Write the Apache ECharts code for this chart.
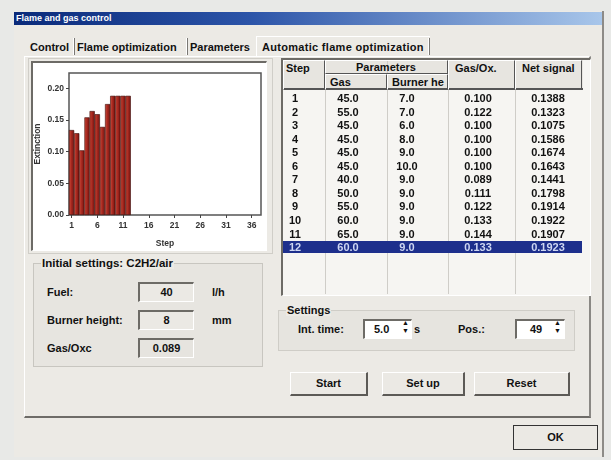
<!DOCTYPE html>
<html><head><meta charset="utf-8">
<script src="https://cdn.jsdelivr.net/npm/echarts@6/dist/echarts.min.js"></script>
<style>
html,body{margin:0;padding:0;}
body{width:611px;height:460px;background:#e8e9e7;position:relative;overflow:hidden;font-family:"Liberation Sans",Arial,sans-serif;font-weight:bold;font-size:11px;color:#111;}
.a{position:absolute;}
.t{position:absolute;white-space:nowrap;line-height:12px;}
.box{position:absolute;box-sizing:border-box;}
.sunk{border-top:2px solid #6d6b66;border-left:2px solid #6d6b66;border-right:1px solid #fff;border-bottom:1px solid #fff;}
.btn{position:absolute;box-sizing:border-box;border-top:1px solid #fff;border-left:1px solid #fff;border-right:2px solid #5c5a56;border-bottom:2px solid #5c5a56;background:#ebe9e4;text-align:center;}
</style></head><body>
<div id="dlg" class="box" style="left:14px;top:11px;width:590px;height:446px;background:#eceae5;border-right:2px solid #8d8b87;"></div>
<div class="box" style="left:14px;top:12px;width:588px;height:13px;background:linear-gradient(90deg,#0a2a7a 0%,#2c54a8 40%,#a8c6ea 100%);"></div>
<div class="t" style="left:16px;top:12px;color:#fff;font-size:9px;">Flame and gas control</div>

<div id="tabs"></div>
<div class="box" style="left:24px;top:56px;width:567px;height:362px;border-top:1px solid #fff;border-left:1px solid #fff;border-right:2px solid #8a8884;border-bottom:2px solid #6e6c68;"></div>

<div class="box" style="left:28px;top:58px;width:245px;height:196px;border:1px solid #d0cec8;"></div>
<div id="chart" class="box sunk" style="left:31px;top:61px;width:236px;height:190px;background:#fff;"></div>

<div class="box" style="left:33px;top:263px;width:230px;height:104px;border:1px solid #c8c6c0;background:#e7e5e0;"></div>
<div class="t" style="left:41px;top:257px;background:#eceae5;padding:0 1px;font-size:11.5px;">Initial settings: C2H2/air</div>
<div id="fields"></div>

<div id="table"></div>

<div class="box" style="left:278px;top:310px;width:297px;height:41px;border:1px solid #cfcdc7;background:#e6e4df;"></div>
<div class="t" style="left:286px;top:304px;background:#eceae5;padding:0 1px;">Settings</div>
<div class="t" style="left:298px;top:323px;">Int. time:</div>
<div class="box sunk" style="left:363px;top:319px;width:49px;height:20px;background:#fff;"></div>
<div class="t" style="left:374px;top:323px;">5.0</div>
<div class="t" style="left:402px;top:319px;font-size:7px;line-height:8px;">&#9650;<br>&#9660;</div>
<div class="t" style="left:414px;top:323px;">s</div>
<div class="t" style="left:458px;top:323px;">Pos.:</div>
<div class="box sunk" style="left:515px;top:319px;width:50px;height:20px;background:#fff;"></div>
<div class="t" style="left:530px;top:323px;">49</div>
<div class="t" style="left:554px;top:319px;font-size:7px;line-height:8px;">&#9650;<br>&#9660;</div>

<div class="btn" style="left:290px;top:372px;width:78px;height:24px;line-height:21px;">Start</div>
<div class="btn" style="left:382px;top:372px;width:83px;height:24px;line-height:21px;">Set up</div>
<div class="btn" style="left:474px;top:372px;width:96px;height:24px;line-height:21px;">Reset</div>
<div class="btn" style="left:513px;top:425px;width:85px;height:25px;line-height:22px;border:1px solid #333;">OK</div>

<script>
// ---- data ----
var steps = [1,2,3,4,5,6,7,8,9,10,11,12];
var extinction = [0.134,0.129,0.102,0.154,0.164,0.159,0.139,0.175,0.188,0.188,0.188,0.188];
var xTicks = [1,6,11,16,21,26,31,36];
var yTicks = [0,0.05,0.10,0.15,0.20];
var gasValues = ["45.0","55.0","45.0","45.0","45.0","45.0","40.0","50.0","55.0","60.0","65.0","60.0"];
var burnerValues = ["7.0","7.0","6.0","8.0","9.0","10.0","9.0","9.0","9.0","9.0","9.0","9.0"];
var gasOxValues = ["0.100","0.122","0.100","0.100","0.100","0.100","0.089","0.111","0.122","0.133","0.144","0.133"];
var netSignal = ["0.1388","0.1323","0.1075","0.1586","0.1674","0.1643","0.1441","0.1798","0.1914","0.1922","0.1907","0.1923"];
var tabNames = ["Control","Flame optimization","Parameters","Automatic flame optimization"];
var fieldLabels = ["Fuel:","Burner height:","Gas/Oxc"];
var fieldValues = ["40","8","0.089"];
var fieldUnits = ["l/h","mm",""];

// ---- tabs ----
(function(){
  var xs=[30,77,190,262], seps=[73,186,null,428], h='';
  for(var i=0;i<3;i++){
    h+='<div class="t" style="left:'+xs[i]+'px;top:41px;">'+tabNames[i]+'</div>';
    if(seps[i]) h+='<div class="box" style="left:'+seps[i]+'px;top:38px;width:2px;height:17px;border-left:1px solid #fff;border-right:1px solid #7a7874;"></div>';
  }
  h+='<div class="box" style="left:256px;top:36px;width:174px;height:21px;border-top:1px solid #fff;border-left:1px solid #fff;background:#eceae5;"></div>';
  h+='<div class="box" style="left:428px;top:38px;width:2px;height:17px;border-left:1px solid #fff;border-right:1px solid #7a7874;"></div>';
  h+='<div class="t" style="left:262px;top:41px;letter-spacing:0.3px;">'+tabNames[3]+'</div>';
  document.getElementById('tabs').innerHTML=h;
})();

// ---- fields ----
(function(){
  var ys=[282,310,338], h='';
  for(var i=0;i<fieldLabels.length;i++){
    h+='<div class="t" style="left:47px;top:'+(ys[i]+4)+'px;">'+fieldLabels[i]+'</div>';
    h+='<div class="box sunk" style="left:138px;top:'+ys[i]+'px;width:56px;height:20px;background:'+(i==2?'#e6e4df':'#ebe9e4')+';text-align:center;line-height:16px;">'+fieldValues[i]+'</div>';
    h+='<div class="t" style="left:212px;top:'+(ys[i]+4)+'px;">'+fieldUnits[i]+'</div>';
  }
  document.getElementById('fields').innerHTML=h;
})();

// ---- table ----
(function(){
  var L=281,T=58,W=310,H=238;
  var cols=[281,325,387,448,515,582];
  var h='<div class="box sunk" style="left:'+L+'px;top:'+T+'px;width:'+W+'px;height:'+H+'px;background:#f6f5f2;"></div>';
  h+='<div class="box" style="left:283px;top:60px;width:300px;height:30px;background:#e7e5e0;border-bottom:2px solid #555;"></div>';
  for(var c=1;c<5;c++) h+='<div class="box" style="left:'+cols[c]+'px;top:60px;width:1px;height:234px;background:#cfcdc8;"></div>';
  var hc=[[283,60,42,30],[325,60,123,14],[448,60,67,30],[515,60,67,30],[325,74,62,16],[387,74,61,16]];
  for(var k=0;k<hc.length;k++) h+='<div class="box" style="left:'+hc[k][0]+'px;top:'+hc[k][1]+'px;width:'+hc[k][2]+'px;height:'+hc[k][3]+'px;border-top:1px solid #fff;border-left:1px solid #fff;border-right:1px solid #555;border-bottom:1px solid #555;"></div>';
  h+='<div class="t" style="left:286px;top:62px;">Step</div>';
  h+='<div class="t" style="left:356px;top:61px;">Parameters</div>';
  h+='<div class="t" style="left:455px;top:62px;">Gas/Ox.</div>';
  h+='<div class="t" style="left:522px;top:62px;">Net signal</div>';
  h+='<div class="t" style="left:330px;top:76px;">Gas</div>';
  h+='<div class="t" style="left:392px;top:76px;">Burner he</div>';
  var r0=98, rh=13.55;
  h+='<div class="box" style="left:283px;top:'+(r0+11*rh-6.5)+'px;width:299px;height:12px;background:#1d2f8c;"></div>';
  var cx=[295,348,407,478,548];
  for(var i=0;i<steps.length;i++){
    var y=r0+i*rh-6, col=(i==11)?'#cdd6f2':'#111';
    var vals=[String(steps[i]),gasValues[i],burnerValues[i],gasOxValues[i],netSignal[i]];
    for(var j=0;j<5;j++) h+='<div class="t" style="left:'+(cx[j]-40)+'px;width:80px;text-align:center;top:'+y+'px;color:'+col+';">'+vals[j]+'</div>';
  }
  document.getElementById('table').innerHTML=h;
})();

// ---- chart ----
var chart = echarts.init(document.getElementById('chart'), null, {renderer:'canvas'});
var lab = {fontSize:8.5, color:'#333', fontFamily:'Liberation Sans', fontWeight:'bold'};
chart.setOption({
  animation:false,
  backgroundColor:'#fff',
  grid:{left:36, top:10, right:5, bottom:35, outerBoundsMode:'none', containLabel:false,
    show:true, borderColor:'#555', borderWidth:1.5, backgroundColor:'#fff'},
  xAxis:{type:'value', min:0.5, max:37.8,
    name:'Step', nameLocation:'middle', nameGap:24, nameMoveOverlap:false, nameTextStyle:lab,
    axisLine:{show:false},
    axisTick:{show:true, length:3, lineStyle:{color:'#444'}, customValues:xTicks},
    axisLabel:Object.assign({customValues:xTicks, margin:6}, lab),
    splitLine:{show:false}},
  yAxis:{type:'value', min:0, max:0.224,
    name:'Extinction', nameLocation:'middle', nameGap:27, nameRotate:90, nameMoveOverlap:false, nameTextStyle:lab,
    axisLine:{show:false},
    axisTick:{show:true, length:3, lineStyle:{color:'#444'}, customValues:yTicks},
    axisLabel:Object.assign({customValues:yTicks, margin:5, formatter:function(v){return v.toFixed(2);}}, lab),
    splitLine:{show:false}},
  series:[{type:'bar', barWidth:5.2,
    data: steps.map(function(s,i){return [s, extinction[i]];}),
    itemStyle:{color:new echarts.graphic.LinearGradient(0,0,1,0,[{offset:0,color:'#d0503f'},{offset:0.45,color:'#a8281f'},{offset:1,color:'#741410'}]),
      borderColor:'#3a0a07', borderWidth:0.6}
  }]
});
</script>
</body></html>
